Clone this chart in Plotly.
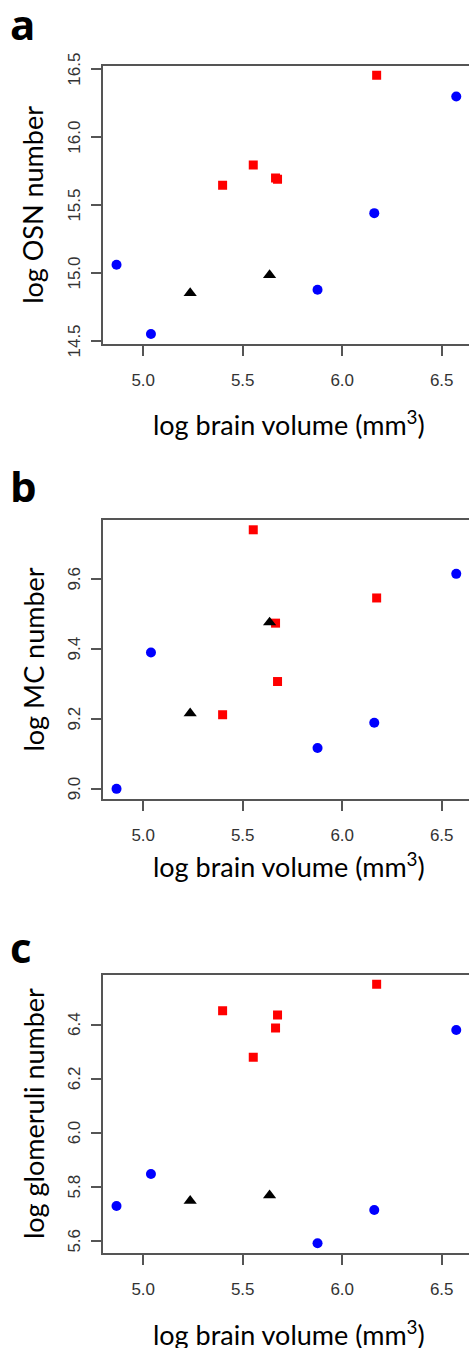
# Three-panel scatter: olfactory counts vs brain volume (log scale)
import plotly.graph_objects as go

# shared x values (log brain volume) per group
x_blue = [4.866, 5.039, 5.876, 6.161, 6.573]
x_red = [5.399, 5.553, 5.665, 5.675, 6.173]
x_black = [5.236, 5.635]

# panel a: log OSN number
osn_blue = [15.061, 14.551, 14.877, 15.441, 16.299]
osn_red = [15.647, 15.796, 15.700, 15.690, 16.456]
osn_black = [14.853, 14.985]

# panel b: log MC number
mc_blue = [9.000, 9.390, 9.117, 9.189, 9.615]
mc_red = [9.212, 9.741, 9.474, 9.307, 9.546]
mc_black = [9.216, 9.476]

# panel c: log glomeruli number
glom_blue = [5.730, 5.848, 5.592, 5.715, 6.380]
glom_red = [6.451, 6.279, 6.387, 6.435, 6.549]
glom_black = [5.749, 5.769]

panel_letters = ["a", "b", "c"]
y_titles = ["log OSN number", "log MC number", "log glomeruli number"]
x_title = "log brain volume (mm<sup>3</sup>)"
x_ticks = [5.0, 5.5, 6.0, 6.5]
y_ticks = [[14.5, 15.0, 15.5, 16.0, 16.5],
           [9.0, 9.2, 9.4, 9.6],
           [5.6, 5.8, 6.0, 6.2, 6.4]]

W, H = 469, 1348
L = 103  # left margin, px
# pixel boxes of the three plot areas (top, bottom)
boxes = [(65.7, 344.0), (520.0, 799.0), (974.7, 1253.3)]
y_ranges = [[14.478, 16.526], [8.971, 9.769], [5.555, 6.584]]
x_range = [4.798, 6.637]
xtitle_y = [423, 865, 1333]
letter_y = [24, 486, 946]

tick_font = dict(family="Liberation Sans, Arial", size=17, color="#333333")


def px_x(px):
    # paper x is measured across the plot area, not the whole figure
    return (px - L) / (W - L)


fig = go.Figure()

panels = [
    (osn_blue, osn_red, osn_black),
    (mc_blue, mc_red, mc_black),
    (glom_blue, glom_red, glom_black),
]

for i, (yb, yr, yk) in enumerate(panels):
    n = "" if i == 0 else str(i + 1)
    xa, ya = "x" + n, "y" + n
    fig.add_trace(go.Scatter(x=x_blue, y=yb, mode="markers", xaxis=xa, yaxis=ya,
                             marker=dict(symbol="circle", size=10, color="#0000FF")))
    fig.add_trace(go.Scatter(x=x_red, y=yr, mode="markers", xaxis=xa, yaxis=ya,
                             marker=dict(symbol="square", size=9, color="#FF0000")))
    fig.add_trace(go.Scatter(x=x_black, y=yk, mode="markers", xaxis=xa, yaxis=ya,
                             marker=dict(symbol="triangle-up", size=11.5, color="#000000")))

    top, bot = boxes[i]
    dom = [1 - bot / H, 1 - top / H]
    axis_common = dict(showgrid=False, zeroline=False, showline=True,
                       linecolor="#555555", linewidth=1.5,
                       ticks="outside", ticklen=10, tickwidth=1.5, tickcolor="#555555",
                       tickfont=tick_font, automargin=False)
    fig.update_layout(**{
        "xaxis" + n: dict(axis_common, domain=[0, 1], range=x_range, anchor=ya,
                          tickvals=x_ticks, ticktext=["%.1f" % v for v in x_ticks],
                          mirror=True, ticklabelstandoff=10),
        "yaxis" + n: dict(axis_common, domain=dom, range=y_ranges[i], anchor=xa,
                          tickvals=y_ticks[i], showticklabels=False),
    })

    # y tick labels, rotated like R's default (parallel to the axis)
    for v in y_ticks[i]:
        fig.add_annotation(text="%.1f" % v, xref="paper", yref=ya, x=px_x(74.5), y=v,
                           textangle=-90, xanchor="center", yanchor="middle",
                           showarrow=False, font=tick_font)

    # panel letter
    fig.add_annotation(text="<b>%s</b>" % panel_letters[i], xref="paper", yref="paper",
                       x=px_x(8), y=1 - letter_y[i] / H, xanchor="left", yanchor="middle",
                       showarrow=False, font=dict(family="Open Sans", size=42, color="black"))
    # y title
    fig.add_annotation(text=y_titles[i], xref="paper", yref="paper", textangle=-90,
                       x=px_x(33), y=1 - (top + bot) / 2 / H, xanchor="center", yanchor="middle",
                       showarrow=False, font=dict(family="Lato", size=27, color="black"))
    # x title
    fig.add_annotation(text=x_title, xref="paper", yref="paper",
                       x=px_x(289), y=1 - xtitle_y[i] / H, xanchor="center", yanchor="middle",
                       showarrow=False, font=dict(family="Lato", size=27, color="black"))

fig.update_layout(width=W, height=H, margin=dict(l=L, r=0, t=0, b=0),
                  plot_bgcolor="white", paper_bgcolor="white", showlegend=False)

# drop the default body margin so the figure sits at the window's corner
fig.write_html("out.html", config={"displayModeBar": False},
               post_script="document.body.style.margin='0';")
